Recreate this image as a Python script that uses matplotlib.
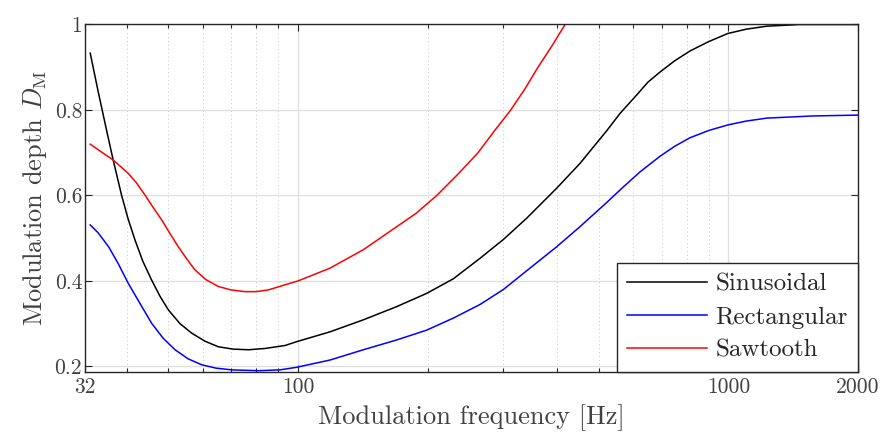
import matplotlib
matplotlib.use('Agg')
import matplotlib.pyplot as plt
from matplotlib.ticker import FixedLocator, NullFormatter

plt.rcParams['font.family'] = 'serif'
plt.rcParams['font.serif'] = ['cmr10']
plt.rcParams['mathtext.fontset'] = 'cm'
plt.rcParams['axes.unicode_minus'] = False

# values
sin_f = [32.9, 34.3, 35.9, 37.2, 38.9, 40.3, 41.8, 43.6, 45.7, 47.8, 50.0,
         53.2, 56.6, 60.8, 65.3, 70.7, 76.7, 83.8, 93.3, 99.3, 118.7, 141.8,
         169.6, 199.1, 229.5, 264.8, 300, 340, 399, 452, 522, 560, 612, 650,
         694, 750, 814, 900, 997, 1100, 1228, 1467, 2000]
sin_d = [0.933, 0.845, 0.753, 0.683, 0.601, 0.545, 0.496, 0.446, 0.402, 0.364,
         0.332, 0.300, 0.278, 0.259, 0.246, 0.2405, 0.239, 0.242, 0.249, 0.258,
         0.281, 0.309, 0.340, 0.371, 0.405, 0.453, 0.497, 0.547, 0.617, 0.675,
         0.752, 0.792, 0.835, 0.865, 0.889, 0.915, 0.938, 0.960, 0.979, 0.989,
         0.996, 1.0, 1.0]

rect_f = [32.9, 34.3, 36.3, 38.2, 40.3, 42.9, 45.7, 48.6, 51.8, 55.5, 59.7,
          64.5, 70.1, 80.9, 90.8, 99.3, 118.7, 141.8, 169.6, 199.1, 229.5,
          264.8, 300, 340, 399, 452, 522, 570, 623, 694, 750, 814, 900, 997,
          1100, 1228, 1572, 2000]
rect_d = [0.531, 0.513, 0.480, 0.441, 0.395, 0.348, 0.301, 0.266, 0.239, 0.218,
          0.204, 0.196, 0.192, 0.190, 0.192, 0.198, 0.215, 0.239, 0.262, 0.285,
          0.313, 0.345, 0.380, 0.424, 0.480, 0.527, 0.584, 0.620, 0.655, 0.692,
          0.715, 0.735, 0.752, 0.765, 0.774, 0.781, 0.786, 0.788]

saw_f = [32.9, 34.9, 37.2, 40.3, 42.1, 44.1, 46.0, 48.2, 50.4, 52.7, 55.1,
         57.6, 61.1, 65.3, 69.9, 75.3, 79.9, 85.3, 93.3, 100, 118.7, 141.8,
         155.1, 169.6, 188.0, 210.1, 235.4, 262.0, 285.4, 312.1, 337.0, 361.0,
         389.1, 417.3]
saw_d = [0.720, 0.702, 0.683, 0.652, 0.630, 0.601, 0.573, 0.543, 0.511, 0.480,
         0.452, 0.426, 0.403, 0.387, 0.379, 0.375, 0.375, 0.379, 0.391, 0.400,
         0.430, 0.473, 0.500, 0.527, 0.558, 0.600, 0.650, 0.700, 0.750, 0.800,
         0.850, 0.900, 0.950, 1.0]

x_ticks = [32, 100, 1000, 2000]
x_labels = ['32', '100', '1000', '2000']
y_ticks = [0.2, 0.4, 0.6, 0.8, 1.0]
y_labels = ['0.2', '0.4', '0.6', '0.8', '1']
minor_x = [40, 50, 60, 70, 80, 90, 200, 300, 400, 500, 600, 700, 800, 900]

txt = '#404040'
fig = plt.figure(figsize=(8.82, 4.38), dpi=100)
ax = fig.add_axes([0.0964, 0.1507, 0.8764, 0.7934])

ax.plot(sin_f, sin_d, color='black', lw=1.1, label='Sinusoidal')
ax.plot(rect_f, rect_d, color='#0000ff', lw=1.1, label='Rectangular')
ax.plot(saw_f, saw_d, color='#ff0000', lw=1.1, label='Sawtooth')

ax.set_xscale('log')
ax.set_xlim(32, 2000)
ax.set_ylim(0.187, 1.0)
ax.xaxis.set_major_locator(FixedLocator(x_ticks))
ax.set_xticklabels(x_labels)
ax.xaxis.set_minor_locator(FixedLocator(minor_x))
ax.xaxis.set_minor_formatter(NullFormatter())
ax.set_yticks(y_ticks)
ax.set_yticklabels(y_labels)

ax.grid(True, which='major', color='#dedede', lw=0.9, ls='-')
ax.grid(True, which='minor', axis='x', color='#c8c8c8', lw=0.7, ls=(0, (1, 3)))
ax.set_axisbelow(True)

ax.tick_params(which='both', direction='in', top=True, right=True,
               colors='#262626', labelcolor=txt, labelsize=15.5, width=0.8)
ax.tick_params(which='major', length=5)
ax.tick_params(which='minor', length=3)
ax.tick_params(axis='x', pad=4)
ax.tick_params(axis='y', pad=2)
for s in ax.spines.values():
    s.set_color('#262626')
    s.set_linewidth(1.0)

ax.set_xlabel('Modulation frequency [Hz]', fontsize=19, color=txt, labelpad=5)
ax.set_ylabel(r'Modulation depth $D_\mathrm{M}$', fontsize=19, color=txt, labelpad=4)

leg = ax.legend(loc='lower right', fontsize=18, fancybox=False,
                edgecolor='#262626', framealpha=1, borderaxespad=0,
                handlelength=3.2, handletextpad=0.35, labelspacing=0.42,
                borderpad=0.4)
leg.get_frame().set_linewidth(1.0)
for t in leg.get_texts():
    t.set_color('#262626')

fig.savefig('out.png', dpi=100)
